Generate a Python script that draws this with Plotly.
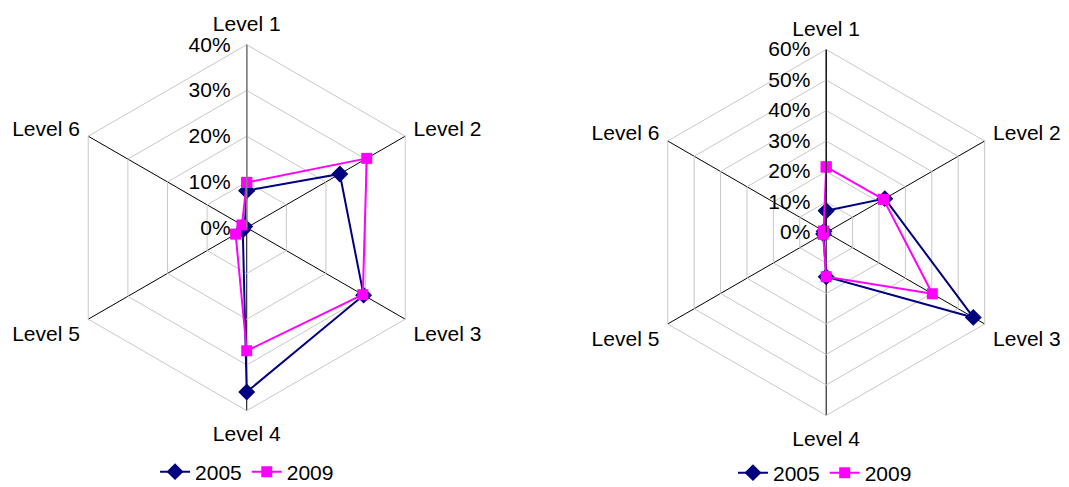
import plotly.graph_objects as go

categories = ["Level 1", "Level 2", "Level 3", "Level 4", "Level 5", "Level 6"]
series_names = ["2005", "2009"]

left_2005 = [0.081, 0.235, 0.295, 0.359, 0.010, 0.005]
left_2009 = [0.099, 0.303, 0.293, 0.269, 0.028, 0.012]

right_2005 = [0.071, 0.222, 0.557, 0.145, 0.010, 0.008]
right_2009 = [0.215, 0.217, 0.402, 0.145, 0.012, 0.010]

left_ticks = [0, 0.1, 0.2, 0.3, 0.4]
right_ticks = [0, 0.1, 0.2, 0.3, 0.4, 0.5, 0.6]

NAVY = "#000080"
MAGENTA = "#FF00FF"
FONT = "Liberation Sans, Arial, sans-serif"
FS = 21


def closed(vals):
    return list(vals) + [vals[0]]


cats_closed = closed(categories)

fig = go.Figure()

styles = [
    dict(color=NAVY, symbol="diamond", size=13),
    dict(color=MAGENTA, symbol="square", size=11),
]

for subplot, legend, data in [
    ("polar", "legend", [left_2005, left_2009]),
    ("polar2", "legend2", [right_2005, right_2009]),
]:
    for name, vals, st in zip(series_names, data, styles):
        fig.add_trace(
            go.Scatterpolar(
                r=closed(vals),
                theta=cats_closed,
                mode="lines+markers",
                name=name,
                line=dict(color=st["color"], width=2),
                marker=dict(color=st["color"], symbol=st["symbol"], size=st["size"]),
                subplot=subplot,
                legend=legend,
                hoverinfo="skip",
            )
        )


def polar_layout(xdom, ydom, ticks, axis_color, axis_width):
    return dict(
        domain=dict(x=xdom, y=ydom),
        bgcolor="white",
        gridshape="linear",
        radialaxis=dict(
            range=[0, ticks[-1]],
            tickvals=ticks,
            ticktext=[f"{int(round(t*100))}%" for t in ticks],
            angle=90,
            side="counterclockwise",
            tickangle=90,
            showline=True,
            linecolor=axis_color,
            linewidth=axis_width,
            gridcolor="#C8C8C8",
            gridwidth=1,
            ticks="outside",
            ticklen=8,
            tickcolor="rgba(0,0,0,0)",
            tickfont=dict(family=FONT, size=FS, color="black"),
        ),
        angularaxis=dict(
            rotation=90,
            direction="clockwise",
            categoryorder="array",
            categoryarray=categories,
            showline=True,
            linecolor="#C8C8C8",
            linewidth=1,
            gridcolor="black",
            gridwidth=1,
            ticks="outside",
            ticklen=5,
            tickcolor="rgba(0,0,0,0)",
            tickfont=dict(family=FONT, size=FS, color="black"),
        ),
    )


fig.update_layout(
    width=1061,
    height=479,
    margin=dict(l=0, r=0, t=0, b=0, autoexpand=False),
    paper_bgcolor="white",
    plot_bgcolor="white",
    font=dict(family=FONT, size=FS, color="black"),
    polar=polar_layout([0.0525, 0.3975], [0.1593, 0.9234], left_ticks, "#808080", 1.5),
    polar2=polar_layout([0.5987, 0.9436], [0.1493, 0.9134], right_ticks, "black", 1),
    legend=dict(
        orientation="h", x=0.2253, y=0.0313, xanchor="center", yanchor="middle",
        font=dict(family=FONT, size=FS, color="black"), bgcolor="rgba(0,0,0,0)",
    ),
    legend2=dict(
        orientation="h", x=0.770, y=0.0292, xanchor="center", yanchor="middle",
        font=dict(family=FONT, size=FS, color="black"), bgcolor="rgba(0,0,0,0)",
    ),
    showlegend=True,
)

fig.write_html("out.html")
